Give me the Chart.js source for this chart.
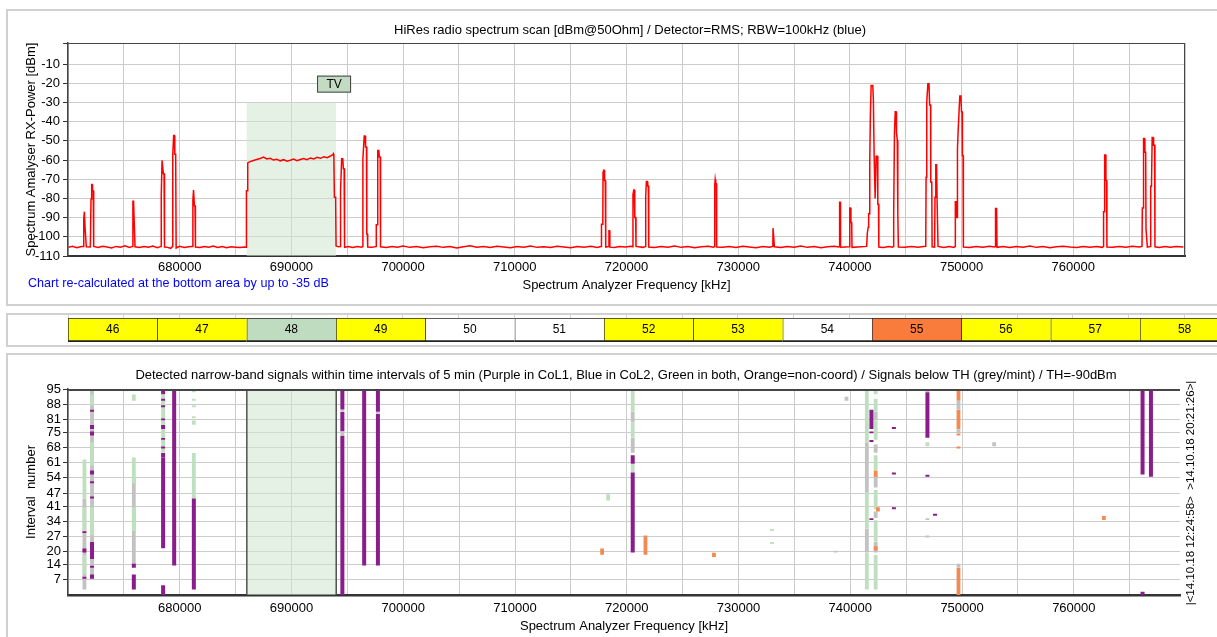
<!DOCTYPE html>
<html lang="en">
<head>
<meta charset="utf-8"/>
<title>HiRes radio spectrum scan</title>
<script src="https://cdn.jsdelivr.net/npm/chart.js"></script>
<style>
  body { margin: 0; background: #fff; width: 1217px; height: 637px; overflow: hidden; position: relative; }
  .box { position: absolute; left: 6px; width: 1240px; border: 2px solid #d0d0d0; box-sizing: border-box; }
  canvas { position: absolute; left: 0; }
</style>
</head>
<body>
<div class="box" style="top:9px;height:297px"></div>
<div class="box" style="top:313px;height:34px"></div>
<div class="box" style="top:353px;height:300px"></div>
<canvas id="specChart" width="1217" height="310" style="top:0"></canvas>
<canvas id="chanChart" width="1217" height="36" style="top:310px"></canvas>
<canvas id="detChart" width="1217" height="285" style="top:352px"></canvas>
<script>
// ---- data ----
// spectrum trace: [frequency kHz, level dBm]
const spectrum = [
  [670050,-105.4],[670400,-104.9],[670800,-105.7],[671200,-105.1],
  [671380,-105],[671410,-90.8],[671466,-86.9],[671530,-95.5],[671585,-95.5],[671640,-105.2],
  [672000,-105.3],[672060,-80.3],[672120,-72.8],[672160,-72.8],[672200,-75.9],[672260,-76],[672300,-105],
  [672700,-105.6],[673100,-104.9],[673500,-105.3],[673900,-105.8],[674300,-105],[674700,-105.4],[675100,-104.7],[675500,-105.5],
  [675780,-105],[675810,-81.5],[675870,-81.5],[675920,-90.8],[675960,-90.8],[676000,-105.2],
  [676400,-105.6],[676800,-105],[677200,-105.4],[677600,-104.8],[678000,-105.7],[678280,-105.1],
  [678330,-105],[678350,-78.2],[678420,-60.2],[678480,-60.2],[678540,-67.2],[678600,-67.2],[678640,-105.3],
  [678900,-105.5],[679200,-106],
  [679350,-105],[679380,-57],[679460,-47.2],[679520,-47.2],[679560,-57],[679640,-57],[679680,-105.8],
  [680000,-104.9],[680400,-105.6],[680800,-105.2],[681100,-105],
  [681150,-105],[681180,-81],[681240,-75.6],[681280,-75.6],[681320,-83.8],[681370,-83.8],[681410,-105.3],
  [681800,-105.6],[682200,-105],[682600,-105.4],[683000,-104.8],[683400,-105.5],[683800,-105.1],[684200,-105.7],
  [684600,-105.2],[685000,-105.4],[685400,-105.6],[685800,-105.3],
  [685950,-105.5],[685975,-76],[686060,-76],[686090,-61.5],[686300,-60.8],[686600,-60.2],[686900,-59.7],[687200,-59.2],
  [687500,-58.5],[687800,-59.4],[688100,-59.1],[688400,-60],[688700,-59.6],[689000,-60.4],[689300,-59.8],[689600,-60.6],
  [689900,-60.1],[690200,-59.5],[690500,-60.3],[690800,-59.7],[691100,-59.2],[691400,-59.8],[691700,-58.9],[692000,-59.4],
  [692300,-58.6],[692600,-59.1],[692900,-58.3],[693200,-58.8],[693500,-57.9],[693700,-57.2],[693760,-56.7],[693800,-58.5],
  [693850,-79.4],[693960,-79.4],[694000,-104.8],
  [694200,-105.2],[694380,-105],[694400,-76],[694500,-59.3],[694600,-59.3],[694650,-64.5],[694720,-64.5],[694760,-105.5],
  [695100,-105],[695500,-105.6],[695900,-105.1],[696300,-105.4],
  [696380,-105],[696400,-59.3],[696520,-47.4],[696600,-47.4],[696640,-53.2],[696720,-53.2],[696750,-98.6],[696800,-98.6],[696830,-105.3],
  [697200,-105.5],[697580,-105],[697600,-93.7],[697700,-93.7],[697730,-55],[697830,-55],[697870,-58.4],[697950,-58.4],[697980,-105.2],
  [698500,-105.6],[699000,-105],[699500,-105.4],[700000,-104.8],[700600,-105.5],[701200,-105.1],[701800,-105.7],[702400,-105.2],
  [703000,-104.9],[703600,-105.5],[704200,-105],[704800,-105.8],[705400,-105.2],[706000,-104.7],[706600,-105.4],[707200,-105.1],
  [707800,-105.6],[708400,-104.9],[709000,-105.3],[709600,-105.7],[710200,-105],[710800,-105.4],[711400,-104.8],[712000,-105.5],
  [712600,-105.2],[713200,-105.6],[713800,-104.9],[714400,-105.3],[715000,-105.7],[715600,-105],[716200,-105.4],[716800,-104.9],
  [717400,-105.5],[717700,-105.1],
  [717740,-105],[717760,-93.4],[717880,-93.4],[717900,-66.3],[717950,-65.3],[718000,-65.3],[718040,-70.7],[718100,-70.7],[718140,-105.3],
  [718400,-105],[718430,-96.9],[718480,-96.9],[718510,-105.4],
  [718900,-105.6],[719400,-105],[719900,-105.3],[720400,-104.9],
  [720560,-105.2],[720580,-78],[720650,-75.6],[720700,-75.6],[720740,-90],[720820,-90],[720850,-105],
  [721500,-105.5],[721700,-105],[721720,-79],[721780,-71.2],[721860,-71.2],[721900,-73.5],[721960,-73.5],[721990,-105.3],
  [722500,-105.6],[723100,-105],[723700,-105.4],[724300,-104.8],[724900,-105.5],[725500,-105.1],[726100,-105.7],[726700,-105.2],
  [727300,-104.9],[727800,-105.4],
  [727880,-105],[727900,-73],[727940,-70.1],[727990,-72.4],[728040,-72.4],[728070,-105.3],
  [728600,-105.5],[729200,-105],[729800,-105.6],[730400,-104.9],[731000,-105.3],[731600,-105.7],[732200,-105.1],[732800,-105.4],
  [733100,-105],[733120,-95.5],[733200,-95.5],[733240,-105.2],
  [733800,-105.6],[734400,-105],[735000,-105.4],[735600,-104.8],[736200,-105.5],[736800,-105.1],[737400,-105.7],[738000,-105.2],
  [738600,-104.9],[739000,-105.3],
  [739050,-105],[739080,-82],[739130,-82],[739160,-105.4],
  [739950,-105.2],[739990,-85],[740050,-85],[740090,-92.5],[740160,-92.5],[740190,-105.5],
  [741500,-105],[741560,-98],[741640,-95],[741680,-88],[741740,-88],[741780,-60],[741830,-38],[741900,-21.2],[742050,-21.2],
  [742100,-28.2],[742150,-28.2],[742170,-57.9],[742240,-57.9],[742260,-80],[742330,-80],[742350,-58],[742470,-58],[742500,-83],
  [742560,-83],[742590,-105.3],
  [743000,-105.6],[743500,-105.1],[743800,-105.4],
  [743900,-105],[743920,-88],[743990,-45.7],[744060,-34.8],[744130,-34.8],[744170,-45.7],[744240,-49.5],[744290,-88],[744340,-105.3],
  [744900,-105.5],[745500,-105],[746100,-105.4],[746600,-105.1],
  [746790,-105],[746820,-68.9],[746870,-68.9],[746890,-29.9],[746980,-20.3],[747080,-20.3],[747140,-31.3],[747220,-31.3],
  [747240,-71.5],[747330,-71.5],[747360,-105.2],
  [747580,-105.4],[747620,-79.4],[747690,-62.4],[747760,-62.4],[747800,-79.4],[747860,-79.4],[747890,-105],
  [748400,-105.6],[748900,-105.1],[749300,-105.5],
  [749420,-105],[749440,-81.7],[749500,-81.7],[749530,-90],[749600,-90],[749630,-54],[749700,-43.6],[749760,-43.6],
  [749840,-26.6],[749940,-26.6],[749990,-34.8],[750040,-34.8],[750070,-57.6],[750130,-57.6],[750160,-105.3],
  [750700,-105.6],[751300,-105],[751900,-105.4],[752500,-104.9],[752950,-105.3],
  [753020,-105],[753040,-85.2],[753130,-85.2],[753170,-105.5],
  [753700,-105.1],[754300,-105.6],[754900,-105],[755500,-105.4],[756100,-104.8],[756700,-105.5],[757300,-105.1],[757900,-105.7],
  [758500,-105.2],[759100,-104.9],[759700,-105.3],[760300,-105.6],[760900,-105],[761500,-105.4],[762100,-105.1],[762600,-105.5],
  [762690,-105],[762710,-87],[762790,-87],[762810,-57.4],[762890,-57.4],[762920,-70.7],[762980,-70.7],[763010,-105.3],
  [763500,-105.5],[764100,-105],[764700,-105.4],[765300,-104.9],[765900,-105.3],[766150,-105],
  [766180,-85],[766240,-85],[766290,-48.8],[766370,-48.8],[766410,-55.9],[766480,-55.9],[766510,-96],[766590,-96],[766630,-105.4],
  [766900,-105.1],[766930,-73.6],[767000,-73.6],[767060,-48.3],[767140,-48.3],[767190,-52.3],[767280,-52.3],[767310,-105.2],
  [767700,-105.6],[768200,-105],[768700,-105.4],[769200,-105.1],[769850,-105.3]
];
const levelTicks = [-110,-100,-90,-80,-70,-60,-50,-40,-30,-20,-10];
const freqTicks = [670000,675000,680000,685000,690000,695000,700000,705000,710000,715000,720000,
                   725000,730000,735000,740000,745000,750000,755000,760000,765000,770000];
const tvBand = [686000, 694000];

// TV channel strip
const channels = [46,47,48,49,50,51,52,53,54,55,56,57,58];
const chanLow  = [670000,678000,686000,694000,702000,710000,718000,726000,734000,742000,750000,758000,766000];
const chanHigh = [678000,686000,694000,702000,710000,718000,726000,734000,742000,750000,758000,766000,774000];
const chanColor = ['#ffff00','#ffff00','#c0dcc0','#ffff00','#ffffff','#ffffff','#ffff00','#ffff00','#ffffff','#fa7c3c','#ffff00','#ffff00','#ffff00'];

// detected signals: [frequency kHz, first interval, last interval]
const purpleSegs = [
  [671470,29,29],[671470,20,21],[671470,8,8],
  [672150,85,85],[672150,77,78],[672150,74,75],[672150,56,57],[672150,52,52],[672150,45,45],[672150,17,24],[672150,13,13],[672150,8,9],
  [675890,13,14],[675890,3,9],
  [678510,93,95],[678510,90,90],[678510,87,87],[678510,81,81],[678510,77,78],[678510,72,72],[678510,68,68],[678510,64,65],[678510,22,63],[678510,0,4],
  [679500,14,95],
  [681260,3,44],
  [694550,0,73],[694550,76,84],[694550,86,95],
  [696500,14,95],
  [697730,14,83],[697730,85,95],
  [720530,61,64],[720530,20,56],
  [741890,77,85],[741890,75,75],[741890,71,71],[741890,35,35],
  [743900,77,77],[743900,56,56],[743900,40,40],
  [746900,73,93],[746900,55,55],
  [747580,37,37],
  [766150,56,95],[766150,0,1],
  [766900,55,95]
];
const orangeSegs = [
  [717790,19,21],[721670,19,27],[727800,18,19],
  [742270,55,57],[742270,21,22],[742470,39,40],
  [749680,90,95],[749680,77,85],[749680,74,74],[749680,68,68],[749680,0,12],
  [762690,35,36]
];
const mintSegs = [
  [671470,95,95],[671470,45,62],[671470,30,40],[671470,10,18],
  [672150,88,92],[672150,60,70],[672150,28,40],
  [675890,90,92],[675890,52,63],[675890,30,40],
  [678510,66,92],
  [681260,94,95],[681260,90,90],[681260,87,87],[681260,82,82],[681260,79,80],[681260,45,65],
  [718330,44,46],
  [720530,85,95],[720530,73,79],[720530,57,60],
  [733000,30,30],[733000,24,24],
  [741480,3,19],[741480,31,47],[741480,71,95],
  [742270,93,95],[742270,85,90],[742270,72,80],[742270,58,64],[742270,40,48],[742270,25,34],[742270,3,18],
  [746900,69,70]
];
const greySegs = [
  [671470,3,44],[672150,8,94],[675890,14,54],
  [694550,74,75],[694550,85,85],[697730,84,84],
  [720530,66,72],[720530,80,84],
  [738680,20,20],[739660,90,91],
  [741480,20,30],[741480,48,70],
  [742270,81,84],[742270,66,69],[742270,50,55],[742270,36,38],[742270,20,24],
  [746900,94,95],[746900,35,35],[746900,27,27],
  [749680,86,89],[749680,75,76],[749680,13,14],
  [752870,69,70]
];
const intervalTicks = [7,14,20,27,34,41,47,54,61,68,75,81,88,95];

// ---- drawing ----
const FONT = "'Liberation Sans', Arial, sans-serif";
Chart.defaults.font.family = FONT;
Chart.defaults.font.size = 13;
Chart.defaults.color = '#000';

const bandPlugin = {
  id: 'tvBand',
  beforeDatasetsDraw(chart, args, opts) {
    if (!opts.show) return;
    const {ctx, chartArea: a, scales: {x, y}} = chart;
    const x0 = x.getPixelForValue(tvBand[0]), x1 = x.getPixelForValue(tvBand[1]);
    const top = opts.top == null ? a.top : y.getPixelForValue(opts.top);
    ctx.save();
    ctx.fillStyle = 'rgba(210,230,210,0.55)';
    ctx.fillRect(x0, top, x1 - x0, a.bottom - top);
    if (opts.edges) {
      ctx.strokeStyle = '#505050';
      ctx.lineWidth = 1.5;
      ctx.beginPath();
      ctx.moveTo(x0, a.top); ctx.lineTo(x0, a.bottom);
      ctx.moveTo(x1, a.top); ctx.lineTo(x1, a.bottom);
      ctx.stroke();
    }
    ctx.restore();
  }
};

const notesPlugin = {
  id: 'notes',
  afterDraw(chart, args, opts) {
    const {ctx, chartArea: a} = chart;
    ctx.save();
    if (opts.frame) {
      ctx.strokeStyle = '#454545';
      ctx.lineWidth = opts.frameWidth || 1;
      ctx.beginPath();
      ctx.moveTo(a.left, a.top + ctx.lineWidth / 2); ctx.lineTo(a.right, a.top + ctx.lineWidth / 2);
      ctx.stroke();
      if (opts.frame === 'box') {
        ctx.lineWidth = 1;
        ctx.beginPath();
        ctx.moveTo(a.right - 0.5, a.top); ctx.lineTo(a.right - 0.5, a.bottom);
        ctx.stroke();
      }
    }
    if (opts.tvLabel) {
      const {x, y} = chart.scales;
      const cx = x.getPixelForValue(tvBand[1]) - 2;
      const top = y.getPixelForValue(-16);
      ctx.fillStyle = '#c3dbc3';
      ctx.fillRect(cx - 17, top, 34, 17);
      ctx.strokeStyle = '#404040';
      ctx.lineWidth = 1;
      ctx.strokeRect(cx - 16.5, top + 0.5, 33, 16);
      ctx.fillStyle = '#000';
      ctx.font = '12px ' + FONT;
      ctx.textAlign = 'center';
      ctx.textBaseline = 'middle';
      ctx.fillText('TV', cx, top + 9);
    }
    (opts.texts || []).forEach(t => {
      ctx.font = (t.size || 13) + 'px ' + FONT;
      ctx.fillStyle = t.color || '#000';
      ctx.textAlign = t.align || 'center';
      ctx.textBaseline = 'middle';
      ctx.save();
      ctx.translate(t.x, t.y);
      if (t.rotate) ctx.rotate(t.rotate);
      ctx.fillText(t.text, 0, 0);
      ctx.restore();
    });
    ctx.restore();
  }
};

function freqLabel(v) {
  return (v % 10000 === 0 && v > 670000 && v < 770000) ? String(v) : '';
}
function setFreqTicks(s) {
  s.ticks = freqTicks.filter(v => v >= s.min && v <= s.max).map(v => ({value: v}));
}

// spectrum chart
new Chart(document.getElementById('specChart'), {
  type: 'line',
  data: {
    datasets: [{
      data: spectrum.map(p => ({x: p[0], y: p[1]})),
      borderColor: '#ff0000',
      borderWidth: 1.5,
      pointRadius: 0,
      tension: 0
    }]
  },
  options: {
    responsive: false,
    animation: false,
    devicePixelRatio: 1,
    layout: {padding: {left: 0, top: 43, right: 32, bottom: 0}},
    plugins: {
      legend: {display: false},
      tooltip: {enabled: false},
      tvBand: {show: true, top: -30},
      notes: {
        frame: 'box',
        tvLabel: true,
        texts: [
          {text: 'HiRes radio spectrum scan [dBm@50Ohm] / Detector=RMS; RBW=100kHz (blue)', x: 630, y: 30},
          {text: 'Chart re-calculated at the bottom area by up to -35 dB', x: 28, y: 284, align: 'left', color: '#0000ff', size: 12.6}
        ]
      }
    },
    scales: {
      x: {
        type: 'linear', min: 670000, max: 770000,
        afterBuildTicks: setFreqTicks,
        ticks: {autoSkip: false, maxRotation: 0, padding: 4, callback: freqLabel},
        grid: {color: '#cccccc', drawTicks: false},
        border: {color: '#333333', width: 2},
        title: {display: true, text: 'Spectrum Analyzer Frequency [kHz]', padding: {top: 0, bottom: 17}},
        afterFit: s => { s.height = 54; }
      },
      y: {
        min: -110, max: 1,
        afterBuildTicks: s => { s.ticks = levelTicks.concat([1]).map(v => ({value: v})); },
        ticks: {autoSkip: false, padding: 3, callback: v => (v > 0 ? '' : String(v))},
        grid: {color: '#cccccc', tickColor: '#333333', tickLength: 5},
        border: {color: '#444444', width: 1.5},
        title: {display: true, text: 'Spectrum Amalyser RX-Power [dBm]', padding: {top: 24}},
        afterFit: s => { s.width = 68; }
      }
    }
  },
  plugins: [bandPlugin, notesPlugin]
});

// channel strip
new Chart(document.getElementById('chanChart'), {
  type: 'bar',
  data: {
    labels: ['ch'],
    datasets: channels.map((ch, i) => ({
      data: [[chanLow[i], chanHigh[i]]],
      backgroundColor: chanColor[i],
      borderColor: '#222222',
      borderWidth: {top: 1, right: 0, bottom: 2, left: 1},
      borderSkipped: false,
      grouped: false,
      barPercentage: 1,
      categoryPercentage: 1
    }))
  },
  options: {
    indexAxis: 'y',
    responsive: false,
    animation: false,
    devicePixelRatio: 1,
    layout: {padding: {left: 68, top: 5, right: 0, bottom: 4}},
    plugins: {legend: {display: false}, tooltip: {enabled: false}},
    scales: {
      x: {
        type: 'linear', position: 'top', min: 670000, max: 772900,
        afterBuildTicks: setFreqTicks,
        ticks: {display: false},
        grid: {drawOnChartArea: false, tickLength: 3, color: '#d0d0d0'},
        border: {display: false},
        afterFit: s => { s.height = 3; }
      },
      y: {display: false}
    }
  },
  plugins: [{
    id: 'chanText',
    afterDatasetsDraw(chart) {
      const ctx = chart.ctx;
      ctx.save();
      ctx.font = '12px ' + FONT;
      ctx.fillStyle = '#000';
      ctx.textAlign = 'center';
      ctx.textBaseline = 'middle';
      channels.forEach((ch, i) => {
        const bar = chart.getDatasetMeta(i).data[0];
        ctx.fillText(String(ch), (bar.x + bar.base) / 2, bar.y);
      });
      ctx.restore();
    }
  }]
});

// detection chart
function segData(segs) {
  const pts = [];
  segs.forEach(s => {
    pts.push({x: s[0], y: s[1] - 0.45}, {x: s[0], y: s[2] + 0.45}, {x: s[0], y: null});
  });
  return pts;
}
function segSet(segs, color, w) {
  return {data: segData(segs), borderColor: color, borderWidth: w, borderCapStyle: 'butt', pointRadius: 0, spanGaps: false, tension: 0};
}

new Chart(document.getElementById('detChart'), {
  type: 'line',
  data: {
    datasets: [
      segSet(purpleSegs, '#8b1c8b', 4),
      segSet(orangeSegs, '#f28a52', 3.8),
      segSet(mintSegs, '#bfe0bf', 3.8),
      segSet(greySegs, '#c2c2c2', 3.8)
    ]
  },
  options: {
    responsive: false,
    animation: false,
    devicePixelRatio: 1,
    layout: {padding: {left: 0, top: 37, right: 37, bottom: 0}},
    plugins: {
      legend: {display: false},
      tooltip: {enabled: false},
      tvBand: {show: true, edges: true},
      notes: {
        frame: 'top',
        frameWidth: 2,
        texts: [
          {text: 'Detected narrow-band signals within time intervals of 5 min (Purple in CoL1, Blue in CoL2, Green in both, Orange=non-coord) / Signals below TH (grey/mint) / TH=-90dBm', x: 626, y: 23.5},
          {text: '|<14.10.18 12:24:58>  >14.10.18 20:21:26>|', x: 1191, y: 141, size: 11.5, rotate: -Math.PI / 2}
        ]
      }
    },
    scales: {
      x: {
        type: 'linear', min: 670000, max: 769500,
        afterBuildTicks: setFreqTicks,
        ticks: {autoSkip: false, maxRotation: 0, padding: 6, callback: freqLabel},
        grid: {color: '#cccccc', drawTicks: false},
        border: {color: '#333333', width: 2.5},
        title: {display: true, text: 'Spectrum Analyzer Frequency [kHz]', padding: {top: 0, bottom: 3}},
        afterFit: s => { s.height = 42; }
      },
      y: {
        min: 0, max: 95,
        afterBuildTicks: s => { s.ticks = intervalTicks.map(v => ({value: v})); },
        ticks: {autoSkip: false, padding: 2, callback: v => String(v)},
        grid: {color: '#cccccc', tickColor: '#333333', tickLength: 5},
        border: {color: '#444444', width: 1.5},
        title: {display: true, text: 'Interval  number', padding: {top: 24}},
        afterFit: s => { s.width = 68; }
      }
    }
  },
  plugins: [bandPlugin, notesPlugin]
});
</script>
</body>
</html>
